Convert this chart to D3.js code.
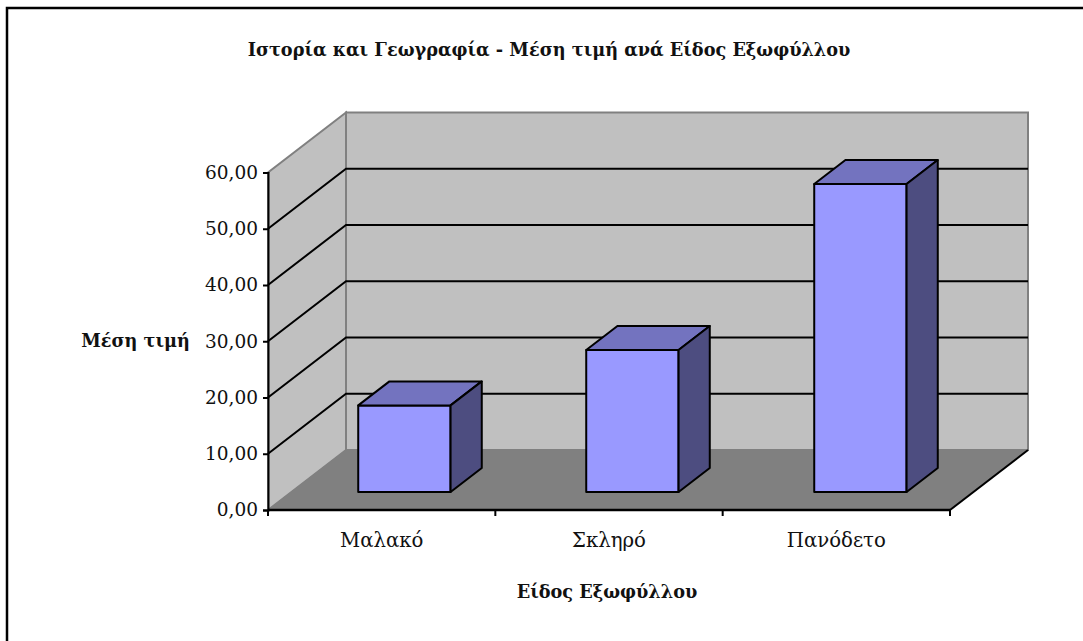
<!DOCTYPE html>
<html>
<head>
<meta charset="utf-8">
<script src="https://cdn.jsdelivr.net/npm/d3@7"></script>
<style>
  html, body { margin: 0; padding: 0; background: #fff; }
  text { font-family: "DejaVu Serif", serif; fill: #111; }
</style>
</head>
<body>
<svg id="chart"></svg>
<script>
const categories = ["Μαλακό", "Σκληρό", "Πανόδετο"];
const values = [15.4, 25.25, 54.75];
const tickValues = [0, 10, 20, 30, 40, 50, 60];
const titleText = "Ιστορία και Γεωγραφία - Μέση τιμή ανά Είδος Εξωφύλλου";
const yTitle = "Μέση τιμή";
const xTitle = "Είδος Εξωφύλλου";

const width = 1083;
const height = 641;

const svg = d3.select("#chart")
  .attr("width", width)
  .attr("height", height)
  .style("display", "block");

// frame, only top and left are inside the picture
svg.append("path")
  .attr("d", d3.line()([[7, 641], [7, 8], [1083, 8]]))
  .attr("fill", "none").attr("stroke", "#000").attr("stroke-width", 2.5);

const x = d3.scaleBand().domain(categories).range([267, 951]).paddingInner(0.595).paddingOuter(0.2975);
const xEdges = d3.scaleLinear().domain([0, 3]).range([268, 950]);
const y = d3.scaleLinear().domain([0, 60]).range([510, 172.5]);

// depth goes from front plane (0) to back wall (1)
const depthX = d3.scaleLinear().domain([0, 1]).range([0, 78]);
const depthY = d3.scaleLinear().domain([0, 1]).range([0, -60]);
const pt = (px, v, d) => [px + depthX(d), y(v) + depthY(d)];
const line = d3.line();

const wallGrey = "#c0c0c0";
const edgeGrey = "#808080";

// side wall
svg.append("path")
  .attr("d", line([pt(268, 0, 0), pt(268, 0, 1), pt(268, 60, 1), pt(268, 60, 0)]) + "Z")
  .attr("fill", wallGrey).attr("stroke", edgeGrey).attr("stroke-width", 2);
// back wall
svg.append("path")
  .attr("d", line([pt(268, 0, 1), pt(950, 0, 1), pt(950, 60, 1), pt(268, 60, 1)]) + "Z")
  .attr("fill", wallGrey).attr("stroke", edgeGrey).attr("stroke-width", 2);
// floor
svg.append("path")
  .attr("d", line([pt(268, 0, 0), pt(950, 0, 0), pt(950, 0, 1), pt(268, 0, 1)]) + "Z")
  .attr("fill", edgeGrey).attr("stroke", edgeGrey).attr("stroke-width", 1);

// gridlines
svg.append("g").selectAll("path")
  .data(tickValues.slice(1, -1))
  .join("path")
  .attr("d", d => line([pt(268, d, 0), pt(268, d, 1), pt(950, d, 1)]))
  .attr("fill", "none").attr("stroke", "#000").attr("stroke-width", 2);

// floor front-right edge
svg.append("path")
  .attr("d", line([pt(950, 0, 0), pt(950, 0, 1)]))
  .attr("stroke", "#000").attr("stroke-width", 2);

// bars
const d0 = 0.3, d1 = 0.7;
const bars = svg.append("g").selectAll("g")
  .data(categories.map((c, i) => ({ c, v: values[i] })))
  .join("g")
  .attr("stroke", "#000").attr("stroke-width", 2).attr("stroke-linejoin", "round");

bars.append("path").attr("fill", "#9999ff")
  .attr("d", d => line([pt(x(d.c), 0, d0), pt(x(d.c) + x.bandwidth(), 0, d0), pt(x(d.c) + x.bandwidth(), d.v, d0), pt(x(d.c), d.v, d0)]) + "Z");
bars.append("path").attr("fill", "#7373bf")
  .attr("d", d => line([pt(x(d.c), d.v, d0), pt(x(d.c) + x.bandwidth(), d.v, d0), pt(x(d.c) + x.bandwidth(), d.v, d1), pt(x(d.c), d.v, d1)]) + "Z");
bars.append("path").attr("fill", "#4d4d80")
  .attr("d", d => line([pt(x(d.c) + x.bandwidth(), 0, d0), pt(x(d.c) + x.bandwidth(), 0, d1), pt(x(d.c) + x.bandwidth(), d.v, d1), pt(x(d.c) + x.bandwidth(), d.v, d0)]) + "Z");

// y axis
const yAxis = svg.append("g")
  .attr("transform", "translate(268,0)")
  .call(d3.axisLeft(y).tickValues(tickValues).tickSize(5).tickPadding(5)
    .tickFormat(d => d3.format(".2f")(d).replace(".", ",")));
yAxis.select(".domain").attr("stroke", "#000").attr("stroke-width", 2);
yAxis.selectAll("line").attr("stroke", "#000").attr("stroke-width", 2);
yAxis.selectAll("text").style("font-size", "18.5px").style("font-family", '"DejaVu Serif", serif');

// x axis
svg.append("g").selectAll("line")
  .data(d3.range(0, 4))
  .join("line")
  .attr("x1", d => xEdges(d)).attr("x2", d => xEdges(d))
  .attr("y1", 510).attr("y2", 516)
  .attr("stroke", "#000").attr("stroke-width", 2);
svg.append("line")
  .attr("x1", xEdges(0)).attr("x2", xEdges(3))
  .attr("y1", 510).attr("y2", 510)
  .attr("stroke", "#000").attr("stroke-width", 2.5);
svg.append("g").selectAll("text")
  .data(categories)
  .join("text")
  .attr("x", (d, i) => xEdges(i + 0.5))
  .attr("y", 547)
  .attr("text-anchor", "middle")
  .style("font-size", "19.7px")
  .text(d => d);

// titles
svg.append("text").attr("x", 549).attr("y", 55.5).attr("text-anchor", "middle")
  .style("font-size", "17.7px").style("font-weight", "bold").text(titleText);
svg.append("text").attr("x", 135.5).attr("y", 347).attr("text-anchor", "middle")
  .style("font-size", "17.7px").style("font-weight", "bold").text(yTitle);
svg.append("text").attr("x", 607).attr("y", 597.5).attr("text-anchor", "middle")
  .style("font-size", "17.7px").style("font-weight", "bold").text(xTitle);
</script>
</body>
</html>
